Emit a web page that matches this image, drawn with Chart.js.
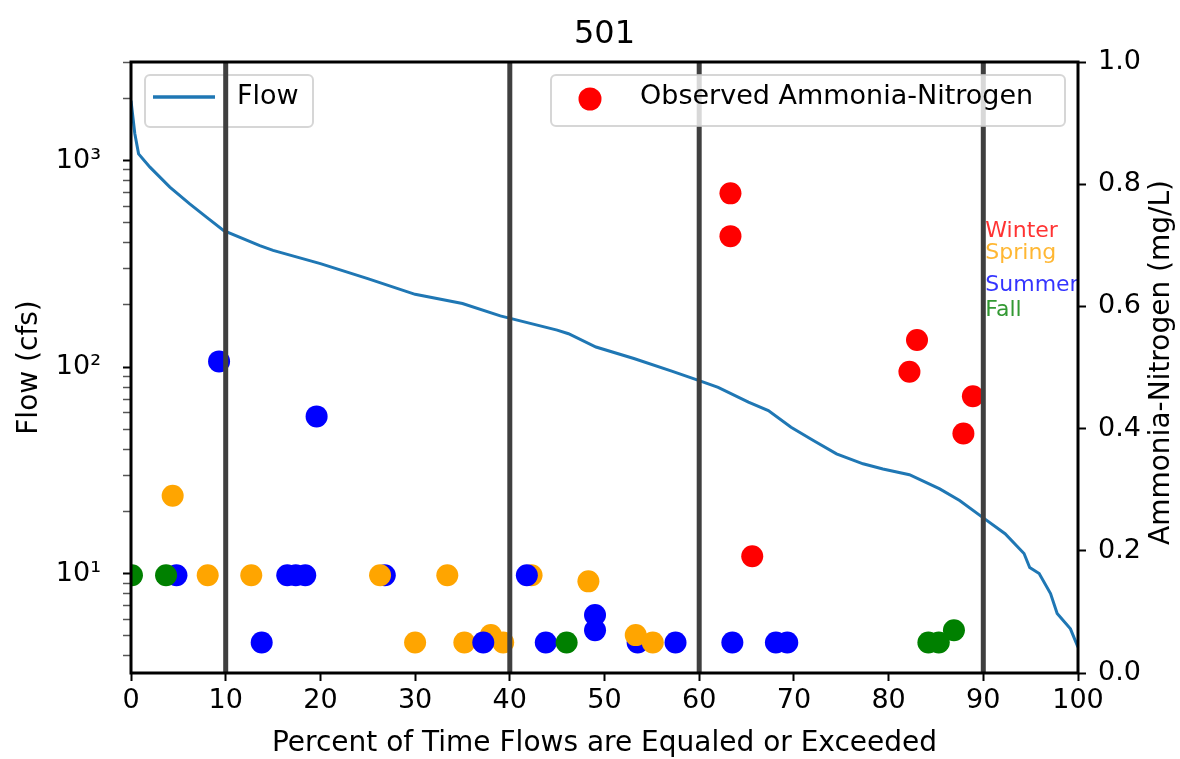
<!DOCTYPE html>
<html>
<head>
<meta charset="utf-8">
<title>501</title>
<script src="https://cdn.jsdelivr.net/npm/chart.js@4"></script>
<style>
  html, body { margin: 0; padding: 0; background: #fff; }
  #wrap { width: 1180px; height: 759px; }
</style>
</head>
<body>
<div id="wrap"><canvas id="flowChart" width="1180" height="759"></canvas></div>
<script>
// Station 501 - flow duration curve with observed ammonia-nitrogen samples

const stationName = '501';

// Flow duration curve (percent exceedance vs flow in cfs)
const flowPct = [0, 0.4, 0.8, 2, 4.1, 6.2, 8, 9.8, 13.6, 15, 20, 25, 30, 35, 39, 45, 46.2, 49.1, 53.1, 57.1,
                 60, 62, 65.2, 67.3, 69.7, 72.1, 74.5, 77.3, 79.4, 82.2, 85.4, 87.5, 90, 92.3, 94.3, 94.9,
                 95.9, 97.1, 97.8, 99.2, 100];
const flowCfs = [1950, 1352, 1077, 929, 743, 617, 531, 458, 387, 367, 317, 268, 225, 203, 177, 151, 145, 125, 110, 95.5,
                 86, 79.8, 67.6, 61.5, 51.1, 44.0, 38.0, 34.0, 32.1, 30.1, 25.7, 22.6, 18.6, 15.6, 12.5, 10.7,
                 10.0, 8.0, 6.4, 5.4, 4.4];

// Observed ammonia-nitrogen samples (mg/L) placed at the flow exceedance of the sample day
const obsPct = [9.3, 19.6, 4.8, 16.5, 17.4, 18.4, 26.8, 13.8, 43.8, 49.0, 49.0, 53.5, 57.5, 63.5, 68.1, 69.3,
                4.4, 8.1, 12.7, 26.3, 33.4, 42.3, 48.3, 30.0, 35.2, 38.0, 39.3, 53.3, 55.1,
                0.1, 3.7, 46.0, 84.2, 85.3, 86.9,
                63.3, 63.3, 83.0, 82.2, 88.9, 87.9, 65.6,
                41.8, 37.2];
const obsNH3 = [0.51, 0.42, 0.16, 0.16, 0.16, 0.16, 0.16, 0.05, 0.05, 0.095, 0.07, 0.05, 0.05, 0.05, 0.05, 0.05,
                0.29, 0.16, 0.16, 0.16, 0.16, 0.16, 0.15, 0.05, 0.05, 0.062, 0.05, 0.062, 0.05,
                0.16, 0.16, 0.05, 0.05, 0.05, 0.07,
                0.785, 0.715, 0.545, 0.493, 0.453, 0.392, 0.191,
                0.16, 0.05];
const obsSeason = ['Summer', 'Summer', 'Summer', 'Summer', 'Summer', 'Summer', 'Summer', 'Summer', 'Summer',
                   'Summer', 'Summer', 'Summer', 'Summer', 'Summer', 'Summer', 'Summer',
                   'Spring', 'Spring', 'Spring', 'Spring', 'Spring', 'Spring', 'Spring', 'Spring', 'Spring',
                   'Spring', 'Spring', 'Spring', 'Spring',
                   'Fall', 'Fall', 'Fall', 'Fall', 'Fall', 'Fall',
                   'Winter', 'Winter', 'Winter', 'Winter', 'Winter', 'Winter', 'Winter',
                   'Summer', 'Summer'];

// Season key shown on the right side of the plot
const seasonNames = ['Winter', 'Spring', 'Summer', 'Fall'];
const seasonColors = ['red', 'orange', 'blue', 'green'];
const seasonKeyLevels = [0.713, 0.677, 0.625, 0.584];

// Flow regime boundaries (percent exceedance)
const regimeBreaks = [10, 40, 60, 90];

// Axis ticks
const flowTickValues = [10, 100, 1000];
const flowTickLabels = ['10\u00b9', '10\u00b2', '10\u00b3'];

const FONT = "'DejaVu Sans', sans-serif";

function seasonColor(name, alpha) {
    const c = seasonColors[seasonNames.indexOf(name)];
    if (alpha === undefined) return c;
    const rgb = { red: '255,0,0', orange: '255,165,0', blue: '0,0,255', green: '0,128,0' }[c];
    return 'rgba(' + rgb + ',' + alpha + ')';
}

function isPow10(v) {
    return flowTickValues.some(t => Math.abs(t - v) < 1e-6 * t);
}

function legendBox(ctx, x, y, w, h) {
    ctx.save();
    ctx.beginPath();
    ctx.roundRect(x, y, w, h, 5);
    ctx.fillStyle = 'rgba(255,255,255,0.8)';
    ctx.fill();
    ctx.lineWidth = 2;
    ctx.strokeStyle = 'rgba(204,204,204,0.8)';
    ctx.stroke();
    ctx.restore();
}

// Extra drawing: title, the two legends, the season key, right axis title and the frame
const decorations = {
    id: 'decorations',
    beforeDatasetsDraw(chart) {
        const { ctx, chartArea: ca } = chart;
        // flow legend belongs to the lower layer
        const bx = ca.left + 14, by = ca.top + 13;
        legendBox(ctx, bx, by, 168, 52);
        ctx.save();
        ctx.strokeStyle = '#1f77b4';
        ctx.lineWidth = 3.5;
        ctx.beginPath();
        ctx.moveTo(bx + 8, by + 22);
        ctx.lineTo(bx + 70, by + 22);
        ctx.stroke();
        ctx.fillStyle = '#000';
        ctx.font = '27px ' + FONT;
        ctx.textBaseline = 'middle';
        ctx.fillText(chart.data.datasets[0].label, bx + 92, by + 22);
        ctx.restore();
    },
    afterDatasetsDraw(chart) {
        const { ctx, chartArea: ca, scales } = chart;
        // observed samples legend
        const w = 514, h = 51;
        const bx = ca.right - 13 - w, by = ca.top + 13;
        legendBox(ctx, bx, by, w, h);
        ctx.save();
        ctx.fillStyle = 'red';
        ctx.beginPath();
        ctx.arc(bx + 39, by + 24, 11.5, 0, Math.PI * 2);
        ctx.fill();
        ctx.fillStyle = '#000';
        ctx.font = '27px ' + FONT;
        ctx.textBaseline = 'middle';
        ctx.fillText(chart.data.datasets[1].label, bx + 89, by + 22);

        // season key
        ctx.font = '22px ' + FONT;
        ctx.textBaseline = 'alphabetic';
        const kx = scales.x.getPixelForValue(regimeBreaks[3]) + 2;
        seasonNames.forEach((s, i) => {
            ctx.fillStyle = seasonColor(s, 0.8);
            ctx.fillText(s, kx, scales.y2.getPixelForValue(seasonKeyLevels[i]));
        });
        ctx.restore();
    },
    afterDraw(chart) {
        const { ctx, chartArea: ca } = chart;
        ctx.save();
        // frame around the plot area
        ctx.strokeStyle = '#000';
        ctx.lineWidth = 3;
        ctx.strokeRect(ca.left, ca.top, ca.right - ca.left, ca.bottom - ca.top);

        // title
        ctx.fillStyle = '#000';
        ctx.font = '32px ' + FONT;
        ctx.textAlign = 'center';
        ctx.textBaseline = 'alphabetic';
        ctx.fillText(stationName, (ca.left + ca.right) / 2, 43);

        // right axis title, reading upwards
        ctx.translate(1162, (ca.top + ca.bottom) / 2 - 5);
        ctx.rotate(-Math.PI / 2);
        ctx.textBaseline = 'middle';
        ctx.font = '28px ' + FONT;
        ctx.fillText('Ammonia-Nitrogen (mg/L)', 0, 0);
        ctx.restore();
    }
};

const datasets = [
    {
        type: 'line',
        label: 'Flow',
        data: flowPct.map((p, i) => ({ x: p, y: flowCfs[i] })),
        yAxisID: 'y',
        borderColor: '#1f77b4',
        borderWidth: 3,
        pointRadius: 0,
        tension: 0,
        order: 3
    },
    {
        type: 'scatter',
        label: 'Observed Ammonia-Nitrogen',
        data: obsPct.map((p, i) => ({ x: p, y: obsNH3[i] })),
        yAxisID: 'y2',
        backgroundColor: obsSeason.map(s => seasonColor(s)),
        borderWidth: 0,
        pointRadius: 11,
        pointHoverRadius: 11,
        clip: 0,
        order: 2
    }
];

regimeBreaks.forEach(b => {
    datasets.push({
        type: 'line',
        label: '',
        data: [{ x: b, y: 0 }, { x: b, y: 1 }],
        yAxisID: 'y2',
        borderColor: '#3f3f3f',
        borderWidth: 5,
        pointRadius: 0,
        order: 1
    });
});

const tickFont = { family: FONT, size: 27 };
const gridOpts = { drawOnChartArea: false, drawTicks: true, tickLength: 8, tickWidth: 2, tickColor: '#000' };

new Chart(document.getElementById('flowChart'), {
    type: 'scatter',
    data: { datasets },
    options: {
        responsive: false,
        animation: false,
        events: [],
        layout: { padding: { top: 62, left: 0, right: 0, bottom: 0 } },
        plugins: {
            legend: { display: false },
            title: { display: false },
            tooltip: { enabled: false }
        },
        scales: {
            x: {
                type: 'linear',
                min: 0,
                max: 100,
                ticks: { stepSize: 10, font: tickFont, color: '#000', padding: 4 },
                grid: gridOpts,
                border: { display: false },
                title: {
                    display: true,
                    text: 'Percent of Time Flows are Equaled or Exceeded',
                    font: { family: FONT, size: 28, lineHeight: 1 },
                    color: '#000',
                    padding: { top: 0, bottom: 1 }
                },
                afterFit(s) { s.height = 86; }
            },
            y: {
                type: 'logarithmic',
                position: 'left',
                min: 3.3,
                max: 3000,
                afterBuildTicks(s) {
                    s.ticks = s.ticks.filter(t => {
                        const e = Math.pow(10, Math.floor(Math.log10(t.value) + 1e-9));
                        const m = t.value / e;
                        return Math.abs(m - Math.round(m)) < 1e-6;
                    });
                },
                ticks: {
                    autoSkip: false,
                    font: tickFont,
                    color: '#000',
                    padding: 22,
                    callback(v) {
                        const i = flowTickValues.findIndex(t => Math.abs(t - v) < 1e-6 * t);
                        return i >= 0 ? flowTickLabels[i] : '';
                    }
                },
                grid: {
                    drawOnChartArea: false,
                    tickLength: 8,
                    tickWidth: c => (c.tick && isPow10(c.tick.value) ? 2 : 1.5),
                    tickColor: c => (c.tick && isPow10(c.tick.value) ? '#000' : '#555')
                },
                border: { display: false },
                title: {
                    display: true,
                    text: 'Flow (cfs)',
                    font: { family: FONT, size: 28, lineHeight: 1.2 },
                    color: '#000',
                    padding: { top: 13, bottom: 0 }
                },
                afterFit(s) { s.width = 131; }
            },
            y2: {
                type: 'linear',
                position: 'right',
                min: 0,
                max: 1,
                ticks: {
                    stepSize: 0.2,
                    font: tickFont,
                    color: '#000',
                    padding: 12,
                    callback: v => v.toFixed(1)
                },
                grid: gridOpts,
                border: { display: false },
                afterFit(s) { s.width = 102; }
            }
        }
    },
    plugins: [decorations]
});
</script>
</body>
</html>
